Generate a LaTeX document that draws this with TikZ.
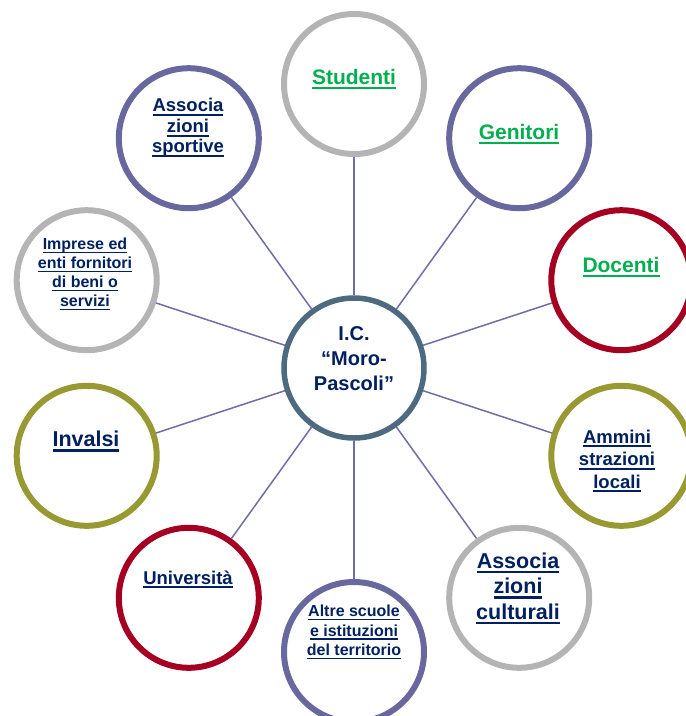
\documentclass[tikz,border=0pt]{standalone}
\usepackage{fontspec}
\setmainfont{Liberation Sans}
\usetikzlibrary{backgrounds}

\definecolor{ringgray}{RGB}{180,180,180}
\definecolor{ringpurple}{RGB}{104,104,158}
\definecolor{ringred}{RGB}{165,0,33}
\definecolor{ringolive}{RGB}{153,153,51}
\definecolor{ringslate}{RGB}{78,106,128}
\definecolor{linkpurple}{RGB}{110,110,165}
\definecolor{txtgreen}{RGB}{0,176,80}
\definecolor{txtnavy}{RGB}{0,32,96}

% underlined line of text, the rule kept out of the box height
\newsavebox\ulinebox
\newcommand\uline[1]{\sbox\ulinebox{#1}\rlap{\smash{\rule[-0.23em]{\wd\ulinebox}{0.11em}}}\usebox\ulinebox}

\begin{document}
\begin{tikzpicture}[x=1pt,y=-1pt,
  ring/.style={circle, minimum size=140pt, inner sep=0pt, line width=6pt, fill=white, draw=#1},
  hub/.style={circle, minimum size=140pt, inner sep=0pt, line width=5.5pt, fill=white, draw=ringslate},
  lbl/.style 2 args={font=\bfseries\fontsize{#1}{#2}\selectfont, align=center, text=txtnavy, inner sep=0pt},
  glbl/.style={lbl={21}{25}, text=txtgreen},
  spoke/.style={draw=linkpurple, line width=1.5pt}]
\useasboundingbox (0,0) rectangle (686,716);
\clip (0,0) rectangle (686,716);

% hub and the ten surrounding circles
\node[hub] (ic) at (354,368) {};
\node[ring=ringgray]   (stud) at (354,84) {};
\node[ring=ringpurple] (gen)  at (519.2,138.2) {};
\node[ring=ringred]    (doc)  at (621.3,280.2) {};
\node[ring=ringolive]  (amm)  at (621.3,455.8) {};
\node[ring=ringgray]   (cult) at (519.2,597.8) {};
\node[ring=ringpurple] (altre) at (354,652) {};
\node[ring=ringred]    (univ) at (188.8,597.8) {};
\node[ring=ringolive]  (inv)  at (86.7,455.8) {};
\node[ring=ringgray]   (impr) at (86.7,280.2) {};
\node[ring=ringpurple] (sport) at (188.8,138.2) {};

% spokes behind the circles
\begin{pgfonlayer}{background}
\foreach \n in {stud,gen,doc,amm,cult,altre,univ,inv,impr,sport}
  \draw[spoke] (ic) -- (\n);
\end{pgfonlayer}

% labels
\node[lbl={20}{25}] (tic) at (354,358.5) {I.C.\\``Moro-\\Pascoli''};
\node[glbl] (tstud) at (354,77) {\uline{Studenti}};
\node[glbl] (tgen) at (519,131.5) {\uline{Genitori}};
\node[glbl] (tdoc) at (621,265) {\uline{Docenti}};
\node[lbl={18.5}{22.5}] (tamm) at (617,459) {\uline{Ammini}\\\uline{strazioni}\\\uline{locali}};
\node[lbl={21.5}{25.5}] (tcult) at (518,586) {\uline{Associa}\\\uline{zioni}\\\uline{culturali}};
\node[lbl={16}{19.5}] (taltre) at (354,630.5) {\uline{Altre scuole}\\\uline{e istituzioni}\\\uline{del territorio}};
\node[lbl={18.5}{22}] (tuniv) at (188,577.5) {\uline{Università}};
\node[lbl={21.5}{25}] (tinv) at (86,439) {\uline{Invalsi}};
\node[lbl={16}{19}] (timpr) at (85,272.5) {\uline{Imprese ed}\\\uline{enti fornitori}\\\uline{di beni o}\\\uline{servizi}};
\node[lbl={18.5}{20.5}] (tsport) at (188,127.5) {\uline{Associa}\\\uline{zioni}\\\uline{sportive}};
\end{tikzpicture}
\end{document}
